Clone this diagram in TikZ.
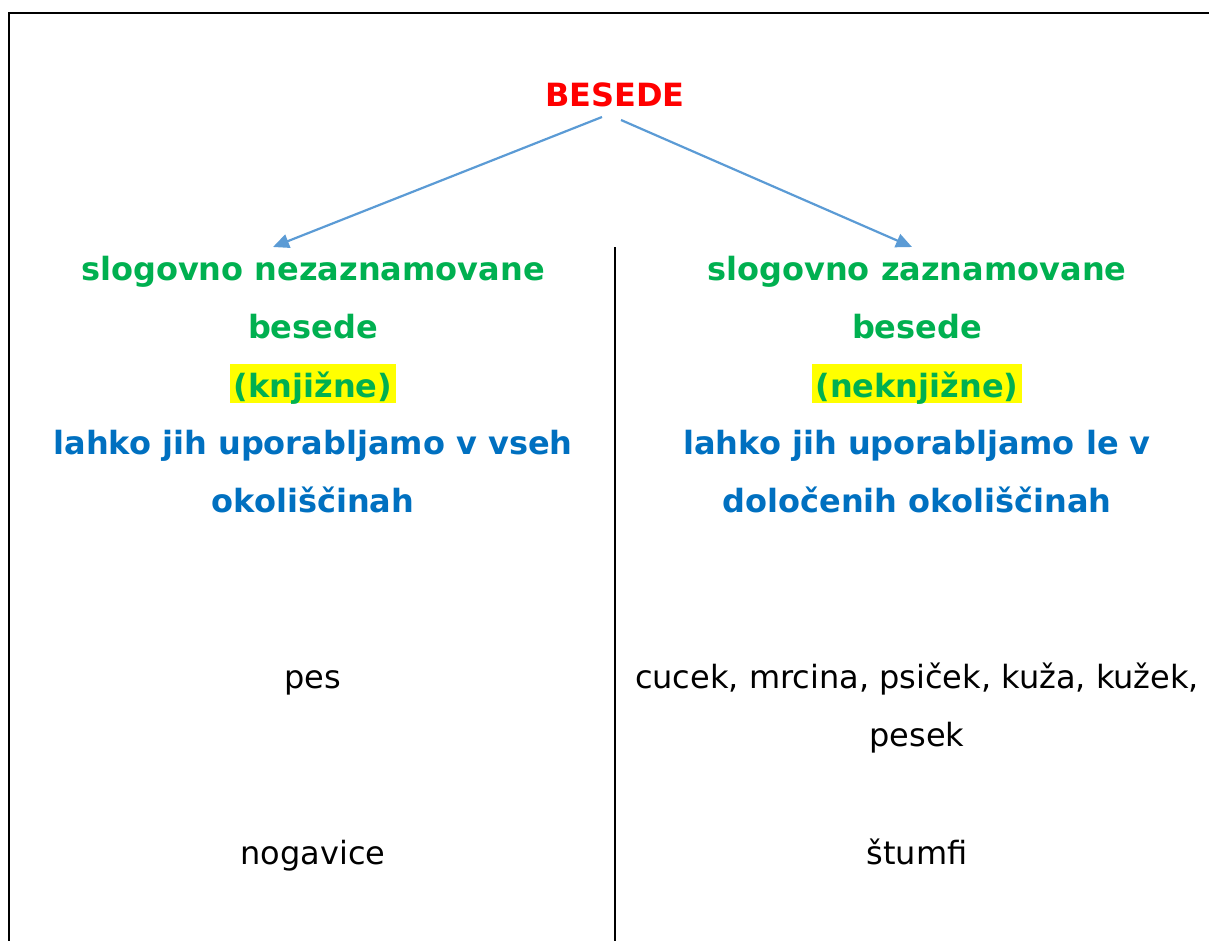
\documentclass[tikz,border=0pt]{standalone}
\usepackage{fontspec}
\setmainfont{DejaVu Sans}
\usetikzlibrary{arrows.meta}
\definecolor{hgreen}{HTML}{00B050}
\definecolor{hblue}{HTML}{0070C0}
\definecolor{hred}{HTML}{FF0000}
\definecolor{harrow}{HTML}{5B9BD5}
\definecolor{hyellow}{HTML}{FFFF00}
\tikzset{
  txt/.style={anchor=base, inner sep=0pt, font=\fontsize{32}{38}\selectfont},
  greentxt/.style={txt, text=hgreen, font=\fontsize{32}{38}\selectfont\bfseries},
  bluetxt/.style={txt, text=hblue, font=\fontsize{32}{38}\selectfont\bfseries},
  hilite/.style={fill=hyellow, inner xsep=4pt, inner ysep=0pt, text height=33pt, text depth=6pt},
  branch/.style={draw=harrow, line width=2.2pt, -{Triangle[length=16pt,width=14pt]}},
  frame/.style={draw=black, line width=2.5pt},
  divider/.style={draw=black, line width=1.6pt}
}
\begin{document}
\begin{tikzpicture}[x=1pt,y=-1pt]
\useasboundingbox (0,0) rectangle (1209,940);
% frame and divider
\draw[frame] (9,942) -- (9,13) -- (1211,13);
\draw[divider] (615,247) -- (615,942);
% title
\node[txt, text=hred, font=\fontsize{32}{38}\selectfont\bfseries] (besede) at (615,106) {BESEDE};
% left column
\node[greentxt] (l1) at (313,280) {slogovno nezaznamovane};
\node[greentxt] (l2) at (313,338) {besede};
\node[greentxt, hilite] (l3) at (313,397) {(knjižne)};
\node[bluetxt] (l4) at (313,454) {lahko jih uporabljamo v vseh};
\node[bluetxt] (l5) at (313,512) {okoliščinah};
\node[txt] (lex1) at (313,688) {pes};
\node[txt] (lex2) at (313,864) {nogavice};
% right column
\node[greentxt] (r1) at (917,280) {slogovno zaznamovane};
\node[greentxt] (r2) at (917,338) {besede};
\node[greentxt, hilite] (r3) at (917,397) {(neknjižne)};
\node[bluetxt] (r4) at (917,454) {lahko jih uporabljamo le v};
\node[bluetxt] (r5) at (917,512) {določenih okoliščinah};
\node[txt] (rex1a) at (917,688) {cucek, mrcina, psiček, kuža, kužek,};
\node[txt] (rex1b) at (917,746) {pesek};
\node[txt] (rex2) at (917,864) {štumfi};
% connectors
\coordinate (bl) at (602,117);
\coordinate (br) at (621,120);
\coordinate (tl) at (273,247);
\coordinate (tr) at (912,247);
\draw[branch] (bl) -- (tl);
\draw[branch] (br) -- (tr);
\end{tikzpicture}
\end{document}
